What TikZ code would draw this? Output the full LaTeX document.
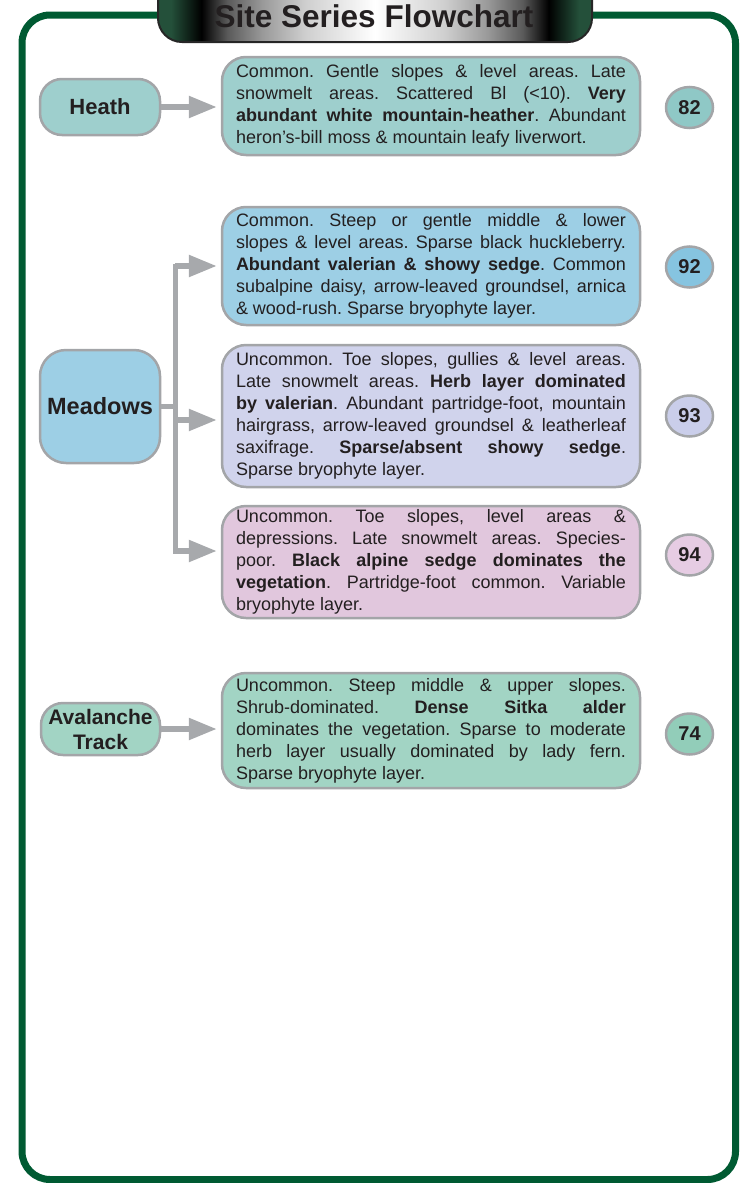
\documentclass[tikz,border=0pt]{standalone}
\usepackage{fontspec}
\setmainfont{Liberation Sans}
\usetikzlibrary{arrows.meta,shapes.geometric}

\definecolor{framegreen}{HTML}{005A32}
\definecolor{tabgreen}{HTML}{24503A}
\definecolor{edgegray}{HTML}{A3A5A8}
\definecolor{arrowgray}{HTML}{A7A9AC}
\definecolor{ink}{HTML}{231F20}
\definecolor{heathfill}{HTML}{9ECFCD}
\definecolor{heathbadge}{HTML}{8FC8C6}
\definecolor{meadowfill}{HTML}{9DCFE5}
\definecolor{meadowbadge}{HTML}{86C4E0}
\definecolor{lavfill}{HTML}{D0D3EC}
\definecolor{lavbadge}{HTML}{CACEEA}
\definecolor{pinkfill}{HTML}{E1C7DD}
\definecolor{pinkbadge}{HTML}{E6CCE3}
\definecolor{avafill}{HTML}{A2D4C4}
\definecolor{avabadge}{HTML}{92CDB9}
\definecolor{tabgrayA}{HTML}{5A5A5A}
\definecolor{tabgrayB}{HTML}{999999}
\definecolor{tabgrayC}{HTML}{CFCFCF}

% dark green edges, black shoulders, white centre
\pgfdeclarehorizontalshading{tabshade}{100bp}{color(0bp)=(tabgreen); color(25bp)=(tabgreen); color(26.5bp)=(tabgreen); color(30bp)=(black); color(33bp)=(tabgrayA); color(37bp)=(tabgrayB); color(42bp)=(tabgrayC); color(50bp)=(white); color(58bp)=(tabgrayC); color(63bp)=(tabgrayB); color(67bp)=(tabgrayA); color(70bp)=(black); color(73.5bp)=(tabgreen); color(75bp)=(tabgreen); color(100bp)=(tabgreen)}

\tolerance=10000
\hyphenpenalty=10000
\exhyphenpenalty=10000
\frenchspacing

\tikzset{
  sitebox/.style={draw=edgegray, line width=2.5pt, text=ink, align=center,
    inner sep=0pt, minimum width=120pt,
    font=\bfseries\fontsize{22}{24}\selectfont},
  descbox/.style={draw=edgegray, line width=2.5pt, rounded corners=24pt,
    text=ink, font=\frenchspacing\fontsize{18}{22}\selectfont, text width=390pt,
    align=justify, inner sep=0pt, minimum width=418pt},
  badge/.style={ellipse, draw=edgegray, line width=2.5pt, minimum width=47pt,
    minimum height=41pt, inner sep=0pt, text=ink,
    font=\bfseries\fontsize{20}{20}\selectfont},
  conn/.style={draw=arrowgray, line width=5pt},
  arr/.style={draw=arrowgray, line width=5.5pt,
    -{Triangle[length=28pt,width=21pt]}, shorten >=4pt}
}

\begin{document}
\begin{tikzpicture}[x=1pt,y=-1pt]
\useasboundingbox (0,0) rectangle (741,1183);

% outer frame
\draw[framegreen, line width=7pt, rounded corners=28pt] (22,15) rectangle (735.5,1179.5);

% title tab
\shade[shading=tabshade, draw=black!85, line width=2pt, rounded corners=24pt]
  (158,-30) rectangle (592,42);
\node[text=ink, inner sep=0pt, font=\bfseries\fontsize{31.5}{32}\selectfont]
  (title) at (374,16) {Site Series Flowchart};

% site labels
\node[sitebox, fill=heathfill, minimum height=56pt, rounded corners=22pt]
  (heath) at (100,107) {Heath};
\node[sitebox, fill=meadowfill, minimum height=113pt, rounded corners=26pt,
  font=\bfseries\fontsize{23.5}{26}\selectfont]
  (meadows) at (100,406.5) {Meadows};
\node[sitebox, fill=avafill, minimum width=119pt, minimum height=52pt,
  rounded corners=22pt, font=\bfseries\fontsize{21}{25}\selectfont]
  (ava) at (100.5,729) {Avalanche\\Track};

% descriptions
\node[descbox, fill=heathfill, minimum height=98pt] (d82) at (431,106)
  {Common. Gentle slopes \& level areas. Late\linebreak
   snowmelt areas. Scattered Bl (<10). \textbf{Very}\linebreak
   \textbf{abundant white mountain-heather}. Abundant\linebreak
   heron’s-bill moss \& mountain leafy liverwort.};

\node[descbox, fill=meadowfill, minimum height=118pt] (d92) at (431,266)
  {Common. Steep or gentle middle \& lower\linebreak
   slopes \& level areas. Sparse black huckleberry.\linebreak
   \textbf{Abundant valerian \& showy sedge}. Common\linebreak
   subalpine daisy, arrow-leaved groundsel, arnica\linebreak
   \& wood-rush. Sparse bryophyte layer.};

\node[descbox, fill=lavfill, minimum height=142pt] (d93) at (431,416)
  {Uncommon. Toe slopes, gullies \& level areas.\linebreak
   Late snowmelt areas. \textbf{Herb layer dominated}\linebreak
   \textbf{by valerian}. Abundant partridge-foot, mountain\linebreak
   hairgrass, arrow-leaved groundsel \& leatherleaf\linebreak
   saxifrage. \textbf{Sparse/absent showy sedge}.\linebreak
   Sparse bryophyte layer.};

\node[descbox, fill=pinkfill, minimum height=112pt] (d94) at (431,562)
  {Uncommon. Toe slopes, level areas \&\linebreak
   depressions. Late snowmelt areas. Species-\linebreak
   poor. \textbf{Black alpine sedge dominates the}\linebreak
   \textbf{vegetation}. Partridge-foot common. Variable\linebreak
   bryophyte layer.};

\node[descbox, fill=avafill, minimum height=115pt] (d74) at (431,730.5)
  {Uncommon. Steep middle \& upper slopes.\linebreak
   Shrub-dominated. \textbf{Dense Sitka alder}\linebreak
   dominates the vegetation. Sparse to moderate\linebreak
   herb layer usually dominated by lady fern.\linebreak
   Sparse bryophyte layer.};

% site series numbers
\node[badge, fill=heathbadge] (b82) at (689.5,107.5) {82};
\node[badge, fill=meadowbadge] (b92) at (689.5,267) {92};
\node[badge, fill=lavbadge] (b93) at (689.5,416) {93};
\node[badge, fill=pinkbadge] (b94) at (689.5,555) {94};
\node[badge, fill=avabadge] (b74) at (689.5,734) {74};

% connectors
\draw[arr] (heath.east) -- (heath.east -| d82.west);
\draw[arr] (ava.east) -- (ava.east -| d74.west);

\coordinate (j1) at (175,266);
\coordinate (j2) at (175,420);
\coordinate (j3) at (175,551);
\draw[conn, line cap=rect] (j1) -- (j3);
\draw[conn] (meadows.east) -- (meadows.east -| j1);
\draw[arr] (j1) -- (j1 -| d92.west);
\draw[arr] (j2) -- (j2 -| d93.west);
\draw[arr] (j3) -- (j3 -| d94.west);
\end{tikzpicture}
\end{document}
